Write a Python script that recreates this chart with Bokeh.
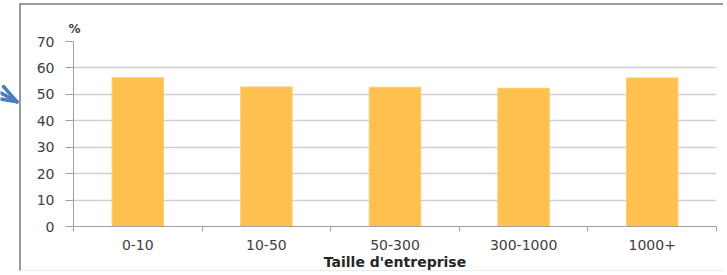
from bokeh.plotting import figure
from bokeh.models import Range1d, FixedTicker
from bokeh.layouts import row
from bokeh.embed import file_html
from bokeh.resources import INLINE

categories = ["0-10", "10-50", "50-300", "300-1000", "1000+"]
values = [56.3, 52.8, 52.7, 52.3, 56.2]
y_ticks = [0, 10, 20, 30, 40, 50, 60, 70]

xpos = [i + 0.5 for i in range(len(categories))]

# small decorative arrow at the far left (as in the screenshot)
a = figure(width=19, height=272, output_backend="svg", toolbar_location=None,
           x_range=Range1d(0, 19), y_range=Range1d(272, 0),
           min_border=0, x_axis_location=None, y_axis_location=None)
a.outline_line_color = None
a.grid.visible = False
a.multi_line(xs=[[0, 16.5], [3, 16.5], [0, 16.5]], ys=[[81, 94], [72, 94], [90, 94]],
             line_color="#4A7EBB", line_width=3.5, line_cap="round")

p = figure(width=704, height=268, output_backend="svg", toolbar_location=None,
           x_range=Range1d(0, len(categories)), y_range=Range1d(0, 70),
           min_border_left=52, min_border_right=9, min_border_top=36, min_border_bottom=47,
           margin=(3, 0, 0, 0),
           styles={"border-top": "2px solid #9a9a9a", "border-left": "2px solid #9a9a9a",
                   "border-bottom": "1px solid #ececec"})
p.outline_line_color = None

p.vbar(x=xpos, top=values, width=0.4, fill_color="#FEC14F", line_color="#FFCB66", line_width=1)

# x axis
p.xaxis.ticker = FixedTicker(ticks=xpos, minor_ticks=list(range(len(categories) + 1)))
p.xaxis.major_label_overrides = {x: c for x, c in zip(xpos, categories)}
p.xaxis.major_tick_line_color = None
p.xaxis.major_tick_out = 0
p.xaxis.minor_tick_line_color = "#a0a0a0"
p.xaxis.minor_tick_out = 5
p.xaxis.minor_tick_in = 0
p.xaxis.axis_line_color = "#a0a0a0"
p.xaxis.major_label_text_font = "DejaVu Sans"
p.xaxis.major_label_text_font_size = "14px"
p.xaxis.major_label_text_color = "#404040"
p.xaxis.major_label_standoff = 8
p.xaxis.axis_label = "Taille d'entreprise"
p.xaxis.axis_label_text_font = "DejaVu Sans"
p.xaxis.axis_label_text_font_style = "bold"
p.xaxis.axis_label_text_font_size = "14px"
p.xaxis.axis_label_text_color = "#262626"
p.xaxis.axis_label_standoff = 1
p.xgrid.grid_line_color = None

# y axis
p.yaxis.ticker = FixedTicker(ticks=y_ticks, minor_ticks=[])
p.yaxis.major_tick_out = 8
p.yaxis.major_tick_in = 0
p.yaxis.major_tick_line_color = "#a0a0a0"
p.yaxis.axis_line_color = "#a0a0a0"
p.yaxis.major_label_text_font = "DejaVu Sans"
p.yaxis.major_label_text_font_size = "14px"
p.yaxis.major_label_text_color = "#404040"
p.yaxis.major_label_standoff = 11
p.ygrid.grid_line_color = "#cfcfcf"
p.ygrid.grid_line_width = 1.5

# "%" unit label above the y axis
p.title.text = "%"
p.title.align = "left"
p.title.offset = -5
p.title.standoff = 12
p.title.text_font = "DejaVu Sans"
p.title.text_font_style = "bold"
p.title.text_font_size = "12px"
p.title.text_color = "#404040"

layout = row(a, p, spacing=0)
open("out.html", "w").write(file_html(layout, INLINE))
